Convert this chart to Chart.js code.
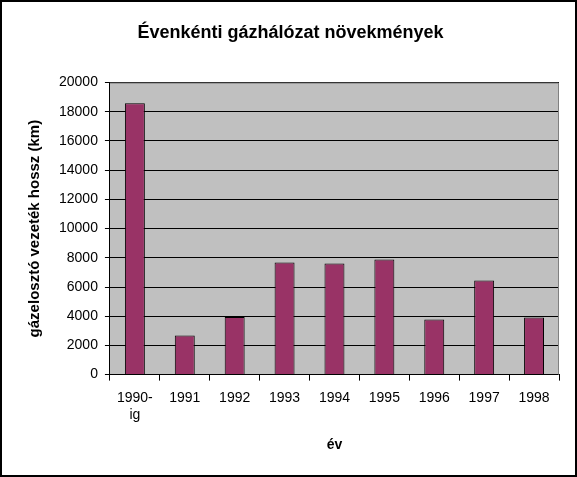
<!DOCTYPE html>
<html>
<head>
<meta charset="utf-8">
<script src="https://cdn.jsdelivr.net/npm/chart.js@4/dist/chart.umd.min.js"></script>
<style>
  body { margin: 0; background: #fff; }
  #wrap { width: 577px; height: 477px; }
</style>
</head>
<body>
<div id="wrap"><canvas id="barchart"></canvas></div>
<script>
const years = [["1990-", "ig"], "1991", "1992", "1993", "1994", "1995", "1996", "1997", "1998"];
const lengths = [18580, 2670, 3950, 7680, 7610, 7890, 3770, 6450, 3910];
const yTicks = [0, 2000, 4000, 6000, 8000, 10000, 12000, 14000, 16000, 18000, 20000];

// grey plot area and outer frame
const frame = {
  id: "frame",
  beforeDraw(chart) {
    const ctx = chart.ctx, a = chart.chartArea;
    ctx.save();
    ctx.fillStyle = "#ffffff";
    ctx.fillRect(0, 0, chart.width, chart.height);
    ctx.fillStyle = "#c0c0c0";
    ctx.fillRect(a.left, a.top, a.right - a.left, a.bottom - a.top);
    ctx.restore();
  },
  afterDraw(chart) {
    const ctx = chart.ctx, a = chart.chartArea;
    ctx.save();
    ctx.strokeStyle = "#808080";
    ctx.lineWidth = 1;
    ctx.beginPath();
    ctx.moveTo(a.left, a.top + 0.5);
    ctx.lineTo(a.right - 0.5, a.top + 0.5);
    ctx.lineTo(a.right - 0.5, a.bottom);
    ctx.stroke();
    ctx.strokeStyle = "#000";
    ctx.lineWidth = 2;
    ctx.strokeRect(1, 1, chart.width - 2, chart.height - 2);
    ctx.restore();
  }
};

var ctx = document.getElementById("barchart").getContext("2d");
var theChart = new Chart(ctx, {
  type: "bar",
  data: {
    labels: years,
    datasets: [{
      data: lengths,
      backgroundColor: "#993366",
      borderColor: "#000",
      borderWidth: 1,
      barPercentage: 0.4,
      categoryPercentage: 1
    }]
  },
  options: {
    responsive: true,
    maintainAspectRatio: false,
    animation: false,
    layout: { padding: { top: 8, right: 18, left: 22, bottom: 19 } },
    plugins: {
      legend: { display: false },
      tooltip: { enabled: false },
      title: {
        display: true,
        text: "Évenkénti gázhálózat növekmények",
        color: "#000",
        font: { family: "Liberation Sans", size: 18, weight: "bold" },
        padding: { top: 14, bottom: 39 }
      }
    },
    scales: {
      x: {
        grid: { offset: true, drawOnChartArea: false, drawTicks: true, tickLength: 6, color: "#000" },
        border: { color: "#000", width: 1 },
        ticks: {
          color: "#000",
          maxRotation: 0,
          padding: 9,
          font: { family: "Liberation Sans", size: 14 }
        },
        title: {
          display: true,
          text: "év",
          color: "#000",
          font: { family: "Liberation Sans", size: 14, weight: "bold" },
          padding: { top: 5 }
        }
      },
      y: {
        min: 0,
        max: 20000,
        afterBuildTicks: function (axis) {
          axis.ticks = yTicks.map(v => ({ value: v }));
        },
        grid: { color: "#000", tickLength: 5, drawTicks: true },
        border: { color: "#000", width: 1 },
        ticks: {
          color: "#000",
          padding: 7,
          font: { family: "Liberation Sans", size: 14 },
          callback: function (value) {
            return String(value);
          }
        },
        title: {
          display: true,
          text: "gázelosztó vezeték hossz (km)",
          color: "#000",
          font: { family: "Liberation Sans", size: 15, weight: "bold" },
          padding: { bottom: 8 }
        }
      }
    }
  },
  plugins: [frame]
});
</script>
</body>
</html>
